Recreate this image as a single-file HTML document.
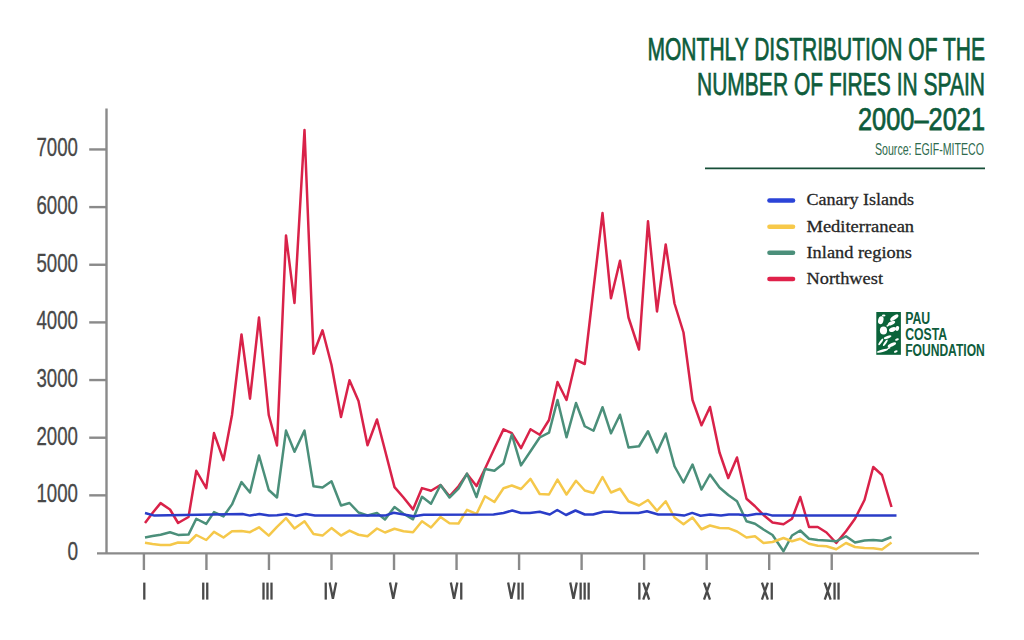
<!DOCTYPE html>
<html><head><meta charset="utf-8"><style>
html,body{margin:0;padding:0;background:#fff;width:1024px;height:640px;overflow:hidden}
svg{display:block}
.ax{stroke:#8a8a8a;stroke-width:2.4}
.rn{fill:none;stroke:#4a4a4a;stroke-width:2.3}
.yl{font-family:"Liberation Sans",sans-serif;font-size:25px;fill:#484848;stroke:#484848;stroke-width:0.3px}
.t{font-family:"Liberation Sans",sans-serif;font-size:32px;fill:#0e5c3c;stroke:#0e5c3c;stroke-width:0.75px}
.lg{font-family:"Liberation Serif",serif;font-size:17.5px;fill:#262626;stroke:#262626;stroke-width:0.3px}
.s{fill:none;stroke-width:2.5;stroke-linejoin:round;stroke-linecap:butt}
</style></head><body>
<svg width="1024" height="640" viewBox="0 0 1024 640">
<rect width="1024" height="640" fill="#fff"/>
<text x="985" y="60" class="t" text-anchor="end" textLength="337.5" lengthAdjust="spacingAndGlyphs">MONTHLY DISTRIBUTION OF THE</text>
<text x="985" y="95" class="t" text-anchor="end" textLength="288" lengthAdjust="spacingAndGlyphs">NUMBER OF FIRES IN SPAIN</text>
<text x="985" y="130" class="t" text-anchor="end" textLength="127" lengthAdjust="spacingAndGlyphs">2000–2021</text>
<text x="984" y="155.4" class="t" style="font-size:17px;fill:#2f6b4e;stroke:none" text-anchor="end" textLength="109" lengthAdjust="spacingAndGlyphs">Source: EGIF-MITECO</text>
<line x1="705" y1="168.4" x2="985" y2="168.4" stroke="#174f38" stroke-width="1.9"/>
<g stroke-linecap="round" stroke-width="4.6">
<line x1="769.5" y1="200.5" x2="793" y2="200.5" stroke="#2b44d8"/>
<line x1="769.5" y1="226.7" x2="793" y2="226.7" stroke="#f7c94a"/>
<line x1="769.5" y1="252.7" x2="793" y2="252.7" stroke="#4b8f7a"/>
<line x1="769.5" y1="279" x2="793" y2="279" stroke="#e0214a"/>
</g>
<text x="806.5" y="205.3" class="lg" textLength="107.6" lengthAdjust="spacingAndGlyphs">Canary Islands</text>
<text x="806.5" y="232" class="lg" textLength="107.6" lengthAdjust="spacingAndGlyphs">Mediterranean</text>
<text x="806.5" y="258" class="lg" textLength="105.5" lengthAdjust="spacingAndGlyphs">Inland regions</text>
<text x="806.5" y="284.3" class="lg" textLength="76.5" lengthAdjust="spacingAndGlyphs">Northwest</text>
<g transform="translate(876.3,312)">
<rect width="24.6" height="42.8" fill="#0a633a"/>
<g fill="#fff"><ellipse cx="4.5" cy="8.2" rx="2.64" ry="4.02" transform="rotate(15 4.5 8.2)"/><ellipse cx="18" cy="5.7" rx="4.80" ry="1.95" transform="rotate(-35 18 5.7)"/><ellipse cx="15.2" cy="11.1" rx="3.96" ry="1.72" transform="rotate(-25 15.2 11.1)"/><ellipse cx="7.2" cy="18.5" rx="3.60" ry="3.91" transform="rotate(0 7.2 18.5)"/><ellipse cx="16.2" cy="17.6" rx="3.60" ry="2.18" transform="rotate(-20 16.2 17.6)"/><ellipse cx="20.9" cy="16.4" rx="1.92" ry="2.53" transform="rotate(20 20.9 16.4)"/><ellipse cx="11.3" cy="25.2" rx="3.96" ry="1.38" transform="rotate(-20 11.3 25.2)"/><ellipse cx="4.5" cy="29.9" rx="1.08" ry="3.91" transform="rotate(35 4.5 29.9)"/><ellipse cx="9" cy="30.8" rx="1.08" ry="3.79" transform="rotate(35 9 30.8)"/><ellipse cx="15.6" cy="32.8" rx="4.56" ry="1.72" transform="rotate(-25 15.6 32.8)"/><ellipse cx="6.2" cy="38.7" rx="6.00" ry="1.26" transform="rotate(-15 6.2 38.7)"/><ellipse cx="7.4" cy="3.5" rx="1.80" ry="0.92" transform="rotate(0 7.4 3.5)"/><ellipse cx="20.7" cy="27.5" rx="1.92" ry="1.15" transform="rotate(-20 20.7 27.5)"/><ellipse cx="19.5" cy="39.5" rx="1.92" ry="1.03" transform="rotate(-20 19.5 39.5)"/><ellipse cx="11.5" cy="13.5" rx="1.44" ry="0.92" transform="rotate(-30 11.5 13.5)"/><ellipse cx="12.5" cy="36" rx="1.80" ry="0.80" transform="rotate(-20 12.5 36)"/></g>
</g>
<g font-family="Liberation Sans" font-weight="bold" font-size="16.8" fill="#0e5c3c">
<text x="905.2" y="323.7" textLength="25" lengthAdjust="spacingAndGlyphs">PAU</text>
<text x="905.2" y="340" textLength="42" lengthAdjust="spacingAndGlyphs">COSTA</text>
<text x="905.2" y="356.4" textLength="79.6" lengthAdjust="spacingAndGlyphs">FOUNDATION</text>
</g>
<line x1="106.5" y1="108.4" x2="106.5" y2="553" class="ax"/>
<line x1="97" y1="553.4" x2="979" y2="553.4" class="ax"/>
<line x1="89.2" y1="495.35" x2="106" y2="495.35" class="ax"/>
<text x="78" y="502.15" class="yl" text-anchor="end" textLength="41.5" lengthAdjust="spacingAndGlyphs">1000</text>
<line x1="89.2" y1="437.70" x2="106" y2="437.70" class="ax"/>
<text x="78" y="444.50" class="yl" text-anchor="end" textLength="41.5" lengthAdjust="spacingAndGlyphs">2000</text>
<line x1="89.2" y1="380.05" x2="106" y2="380.05" class="ax"/>
<text x="78" y="386.85" class="yl" text-anchor="end" textLength="41.5" lengthAdjust="spacingAndGlyphs">3000</text>
<line x1="89.2" y1="322.40" x2="106" y2="322.40" class="ax"/>
<text x="78" y="329.20" class="yl" text-anchor="end" textLength="41.5" lengthAdjust="spacingAndGlyphs">4000</text>
<line x1="89.2" y1="264.75" x2="106" y2="264.75" class="ax"/>
<text x="78" y="271.55" class="yl" text-anchor="end" textLength="41.5" lengthAdjust="spacingAndGlyphs">5000</text>
<line x1="89.2" y1="207.10" x2="106" y2="207.10" class="ax"/>
<text x="78" y="213.90" class="yl" text-anchor="end" textLength="41.5" lengthAdjust="spacingAndGlyphs">6000</text>
<line x1="89.2" y1="149.45" x2="106" y2="149.45" class="ax"/>
<text x="78" y="156.25" class="yl" text-anchor="end" textLength="41.5" lengthAdjust="spacingAndGlyphs">7000</text>
<text x="78" y="559.80" class="yl" text-anchor="end" textLength="10.6" lengthAdjust="spacingAndGlyphs">0</text>
<line x1="143.90" y1="553" x2="143.90" y2="570" class="ax"/>
<g fill="#4a4a4a"><rect x="143.15" y="582.6" width="2.3" height="17.00"/></g>
<line x1="206.43" y1="553" x2="206.43" y2="570" class="ax"/>
<g fill="#4a4a4a"><rect x="202.10" y="582.6" width="2.3" height="17.00"/><rect x="206.10" y="582.6" width="2.3" height="17.00"/></g>
<line x1="268.96" y1="553" x2="268.96" y2="570" class="ax"/>
<g fill="#4a4a4a"><rect x="262.35" y="582.6" width="2.3" height="17.00"/><rect x="266.35" y="582.6" width="2.3" height="17.00"/><rect x="270.35" y="582.6" width="2.3" height="17.00"/></g>
<line x1="331.49" y1="553" x2="331.49" y2="570" class="ax"/>
<g fill="#4a4a4a"><rect x="324.60" y="582.6" width="2.3" height="17.00"/><path d="M329.63,582.6 L332.90,598.80 L336.16,582.6" class="rn"/></g>
<line x1="394.02" y1="553" x2="394.02" y2="570" class="ax"/>
<g fill="#4a4a4a"><path d="M389.99,582.6 L393.25,598.80 L396.51,582.6" class="rn"/></g>
<line x1="456.55" y1="553" x2="456.55" y2="570" class="ax"/>
<g fill="#4a4a4a"><path d="M450.84,582.6 L454.10,598.80 L457.37,582.6" class="rn"/><rect x="460.10" y="582.6" width="2.3" height="17.00"/></g>
<line x1="519.08" y1="553" x2="519.08" y2="570" class="ax"/>
<g fill="#4a4a4a"><path d="M508.13,582.6 L511.40,598.80 L514.66,582.6" class="rn"/><rect x="517.40" y="582.6" width="2.3" height="17.00"/><rect x="521.40" y="582.6" width="2.3" height="17.00"/></g>
<line x1="581.61" y1="553" x2="581.61" y2="570" class="ax"/>
<g fill="#4a4a4a"><path d="M570.24,582.6 L573.50,598.80 L576.77,582.6" class="rn"/><rect x="579.50" y="582.6" width="2.3" height="17.00"/><rect x="583.50" y="582.6" width="2.3" height="17.00"/><rect x="587.50" y="582.6" width="2.3" height="17.00"/></g>
<line x1="644.14" y1="553" x2="644.14" y2="570" class="ax"/>
<g fill="#4a4a4a"><rect x="638.20" y="582.6" width="2.3" height="17.00"/><path d="M643.24,582.6 L649.17,599.6 M649.17,582.6 L643.24,599.6" class="rn"/></g>
<line x1="706.67" y1="553" x2="706.67" y2="570" class="ax"/>
<g fill="#4a4a4a"><path d="M704.03,582.6 L709.97,599.6 M709.97,582.6 L704.03,599.6" class="rn"/></g>
<line x1="769.20" y1="553" x2="769.20" y2="570" class="ax"/>
<g fill="#4a4a4a"><path d="M761.93,582.6 L767.87,599.6 M767.87,582.6 L761.93,599.6" class="rn"/><rect x="770.60" y="582.6" width="2.3" height="17.00"/></g>
<line x1="831.73" y1="553" x2="831.73" y2="570" class="ax"/>
<g fill="#4a4a4a"><path d="M824.74,582.6 L830.67,599.6 M830.67,582.6 L824.74,599.6" class="rn"/><rect x="833.40" y="582.6" width="2.3" height="17.00"/><rect x="837.40" y="582.6" width="2.3" height="17.00"/></g>

<polyline class="s" stroke="#d92249" points="145,523 152.5,513 160.6,503.1 170,509.5 178.1,523 188.5,517 196.3,470.75 206.25,488.2 214,433.1 223.5,460.1 232,415 241.5,334.5 250,398.7 259,317.5 268.75,415 277,445.5 286,235.5 294.5,303 304.5,130 313.5,353.75 322.5,330.3 331.5,365 341,417 349.5,380.2 358.5,401 367.5,445.2 377,419.5 385,450.3 394.5,487.1 403.5,497.5 413,509.4 422,488.1 431,490.7 440.5,485 449.5,496.25 458.5,486.25 467,473.9 476.5,486.1 485,468.75 494.4,448.5 503.5,429.4 511.8,433.2 521,448.2 530.5,429.2 539.7,434.8 549,420 557.5,382 566.5,400 576,359.8 584.75,364 593.5,289 602.5,213.1 611,298.3 620,260.8 628.5,317.5 639,349.5 648,221.3 657,311.5 665.7,244.5 674.5,303.5 683.5,332.5 692.5,400 701.5,425.3 710,407 719.5,452.5 728.25,478 737,457.5 746.5,498.75 755,506.25 763.5,515 772.5,522.5 783.5,524.25 792,518.75 800.25,497 809,527 817.75,527 826.5,532.5 836.25,543 846,531.25 855,518.75 864.5,500 873.25,467 882,475 891.5,507"/>
<polyline class="s" stroke="#4b8f7a" points="145,537.5 152.5,536.1 160.6,534.7 170,532.3 178.1,534.9 188.5,534.6 196.3,518.75 206.25,523.9 214,512.1 223.5,516.4 232,504.4 241.5,482.1 250,492.5 259,455.5 268.75,490 277,497.5 286,430.6 294.5,451.75 304.5,430.6 313.5,486.25 322.5,487.5 331.5,481.25 341,505.5 349.5,503 358.5,512.5 367.5,515.5 377,513 385,519.5 394.5,507 403.5,513.75 413,519.3 422,496.8 431,503.7 440.5,485 449.5,497.5 458.5,488.7 467,473.6 476.5,497.1 485,469.1 494.4,470.8 503.5,463.5 511.8,434.5 521,465.4 530.5,451.3 539.7,437.5 549,432.7 557.5,400 566.5,437.3 576,403 584.75,426.25 593.5,430.75 602.5,407.2 611,433.3 620,414.7 628.5,447.5 639,446.25 648,431.25 657,452.5 665.7,433.5 674.5,466.25 683.5,482.5 692.5,464.5 701.5,489.5 710,474.5 719.5,487.5 728.25,495 737,501.25 746.5,521.25 755,523.75 763.5,529.5 772.5,535 783.5,551.25 792,535.5 800.25,530.5 809,538.75 817.75,540 826.5,540.5 836.25,541.25 846,536.25 855,542.5 864.5,540.5 873.25,540 882,540.75 891.5,537"/>
<polyline class="s" stroke="#f5c84a" points="145,542.75 152.5,544 160.6,545 170,545 178.1,542.5 188.5,542.75 196.3,535 206.25,540 214,531.9 223.5,537.5 232,531.25 241.5,531.1 250,532.2 259,527.3 268.75,535.6 277,526.8 286,518.1 294.5,528.5 304.5,521.25 313.5,534 322.5,535.6 331.5,528.1 341,535.6 349.5,530.6 358.5,534.75 367.5,536.25 377,528.5 385,532.5 394.5,528.75 403.5,531.25 413,532.25 422,521.25 431,527.5 440.5,516.9 449.5,523.25 458.5,523.5 467,509.8 476.5,514 485,496.25 494.4,502 503.5,488.2 511.8,485.5 521,489 530.5,478.8 539.7,494 549,494.5 557.5,479.6 566.5,494.5 576,480.75 584.75,490.5 593.5,493 602.5,477 611,492.5 620,488.75 628.5,501.25 639,505.5 648,500 657,510.75 665.7,501.25 674.5,517.5 683.5,524.25 692.5,517.5 701.5,529.25 710,525.5 719.5,528 728.25,528.2 737,531.5 746.5,537.5 755,536.25 763.5,543 772.5,542 783.5,538 792,541.25 800.25,538.75 809,543.75 817.75,545.75 826.5,546.25 836.25,549.25 846,543 855,547 864.5,548 873.25,548.25 882,549.5 891.5,542.5"/>
<polyline class="s" stroke="#2a3dc8" points="145,513 154.4,515.6 242.5,514 250,515.6 259.4,514 269,515.6 277,515.2 286.9,514 295.6,515.9 305.6,514 315,515.6 385,515.6 393.75,512.75 413.75,516.25 423.75,514.75 493.5,514.5 503.5,513 512.25,510.5 521,513 529.75,513 539.75,511.75 549.75,514.5 557.25,510 566,515 575.5,510.5 584.75,514.5 593,514.5 603.5,511.75 611.5,511.75 620.5,513 638.5,513 647,511.25 658.25,514.5 674.5,514.5 684,515.6 692.2,512.9 700.5,515.8 710.3,514.6 721,515.6 728.8,514.5 738.6,514.5 747.4,515.6 756.2,513.9 766,513.9 771.8,515.4 896.5,515.5"/>
</svg>
</body></html>
